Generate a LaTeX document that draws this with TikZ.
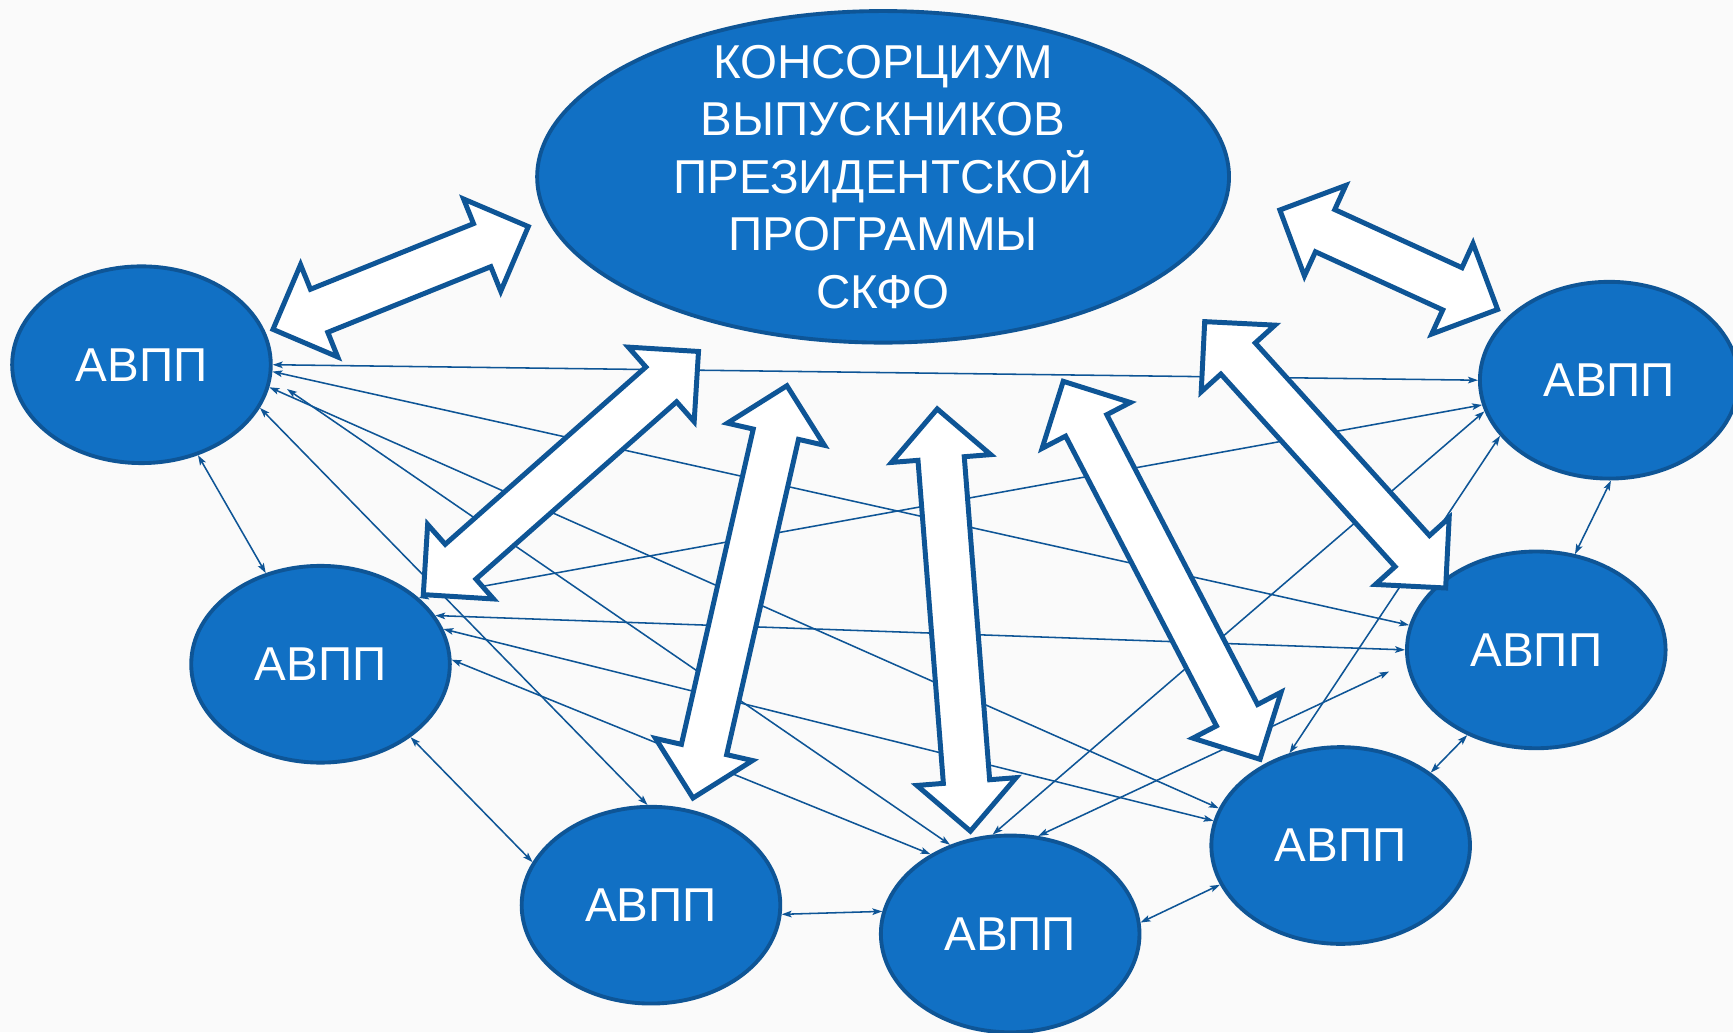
\documentclass[tikz,border=0pt]{standalone}
\usepackage{fontspec}
\setmainfont{Liberation Sans}
\usetikzlibrary{shapes.geometric,arrows.meta,calc}
\definecolor{efill}{HTML}{1170C4}
\definecolor{edgeblue}{HTML}{0E5596}
\definecolor{bgc}{HTML}{FAFAFA}
\tikzset{
  avpp/.style={ellipse, draw=edgeblue, line width=3.5pt, fill=efill,
    minimum width=234pt, minimum height=178pt, inner sep=0pt,
    text=white, font=\fontsize{43}{50}\selectfont},
  bigell/.style={ellipse, draw=edgeblue, line width=3.5pt, fill=efill,
    minimum width=626pt, minimum height=300pt, inner sep=0pt},
  bigtext/.style={text=white, align=center, font=\fontsize{43}{52}\selectfont},
  link/.style={draw=edgeblue, line width=1.4pt,
    {Stealth[length=9pt,width=6pt,inset=2pt]}-{Stealth[length=9pt,width=6pt,inset=2pt]}},
  bigarrow/.style={draw=edgeblue, fill=white, line width=4.5pt, line join=miter},
}
\newcommand\blockarrow[2]{%
  \draw[bigarrow] let \p1=(#1), \p2=(#2), \n1={atan2(\y2-\y1,\x2-\x1)} in
    (\p1) -- ($(\p1)+(\n1:45pt)+(\n1+90:45pt)$) -- ($(\p1)+(\n1:45pt)+(\n1+90:21pt)$)
    -- ($(\p2)+(\n1+180:45pt)+(\n1+90:21pt)$) -- ($(\p2)+(\n1+180:45pt)+(\n1+90:45pt)$)
    -- (\p2) -- ($(\p2)+(\n1+180:45pt)+(\n1-90:45pt)$) -- ($(\p2)+(\n1+180:45pt)+(\n1-90:21pt)$)
    -- ($(\p1)+(\n1:45pt)+(\n1-90:21pt)$) -- ($(\p1)+(\n1:45pt)+(\n1-90:45pt)$) -- cycle;}
\begin{document}
\begin{tikzpicture}[x=1pt,y=-1pt]
\useasboundingbox (0,0) rectangle (1568,934);
\clip (0,0) rectangle (1568,934);
\fill[bgc] (0,0) rectangle (1568,934);

% ellipses
\node[bigell] (C) at (799,160) {};
\node[bigtext] (Ct) at (C) {КОНСОРЦИУМ\\ВЫПУСКНИКОВ\\ПРЕЗИДЕНТСКОЙ\\ПРОГРАММЫ\\СКФО};
\node[avpp] (A1) at (128,330) {АВПП};
\node[avpp] (A2) at (290,601) {АВПП};
\node[avpp] (A3) at (589,819) {АВПП};
\node[avpp] (A4) at (914,845) {АВПП};
\node[avpp] (A5) at (1213,765) {АВПП};
\node[avpp] (A6) at (1390,588) {АВПП};
\node[avpp] (A7) at (1456,344) {АВПП};

% thin connectors
\draw[link] (A1.0) -- (A7.180);
\draw[link] (A1.-3.5) -- (A6.169.8);
\draw[link] (A1.-10.7) -- (A5.163);
\draw[link, shorten <=17pt] (A1.-6.6) -- (A4.124.3);
\draw[link] (A1.-20.2) -- (A3.92);
\draw[link] (A1.-58) -- (A2.121.8);
\draw[link] (A2.-39.9) -- (A3.160.2);
\draw[link] (A2.2) -- (A4.135.2);
\draw[link] (A2.16.7) -- (A5.169.7);
\draw[link] (A2.23.7) -- (A6.180);
\draw[link] (A2.34.5) -- (A7.191);
\draw[link] (A3.-4) -- (A4.170.7);
\draw[link] (A4.5) -- (A5.198.3);
\draw[link, shorten >=17pt] (A4.74.3) -- (A6.186.7);
\draw[link] (A4.100.2) -- (A7.194);
\draw[link] (A5.39.4) -- (A6.231);
\draw[link] (A5.119.2) -- (A7.207);
\draw[link] (A6.68) -- (A7.-89);

% big double arrows
\coordinate (b1a) at (247,298); \coordinate (b1b) at (478,205);
\coordinate (b2a) at (1158,190); \coordinate (b2b) at (1355,280);
\coordinate (b3a) at (632,318); \coordinate (b3b) at (383,538);
\coordinate (b4a) at (712,349); \coordinate (b4b) at (627,722);
\coordinate (b5a) at (848,370); \coordinate (b5b) at (878,752);
\coordinate (b6a) at (962,345); \coordinate (b6b) at (1140,687);
\coordinate (b7a) at (1090,291); \coordinate (b7b) at (1308,532);
\blockarrow{b1a}{b1b}
\blockarrow{b2a}{b2b}
\blockarrow{b3a}{b3b}
\blockarrow{b4a}{b4b}
\blockarrow{b5a}{b5b}
\blockarrow{b6a}{b6b}
\blockarrow{b7a}{b7b}
\end{tikzpicture}
\end{document}
